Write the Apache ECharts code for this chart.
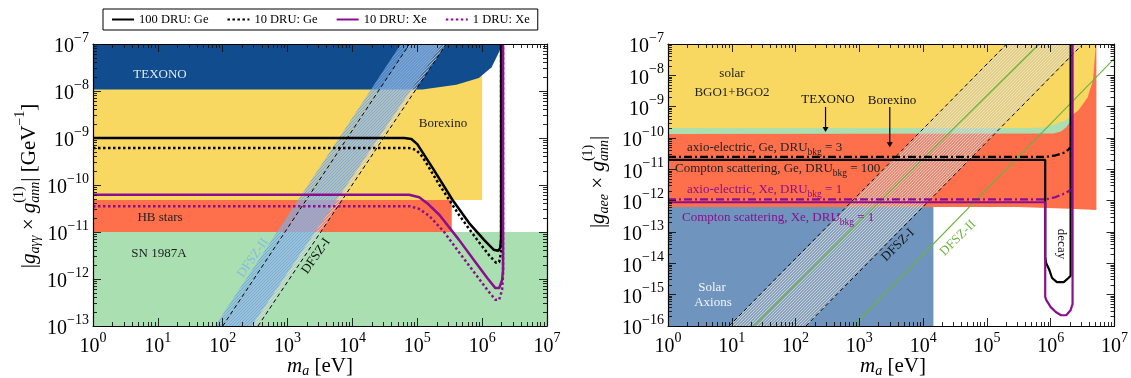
<!DOCTYPE html>
<html>
<head>
<meta charset="utf-8">
<script src="https://cdn.jsdelivr.net/npm/echarts@6/dist/echarts.min.js"></script>
<style>
html,body{margin:0;padding:0;background:#fff;}
#chart{width:1131px;height:378px;}
</style>
</head>
<body>
<div id="chart"></div>
<script>
// ---------- data: left panel, |g_aγγ × g_ann^(1)| [GeV^-1] vs m_a [eV] ----------
const texonoPhoton   = [[1,1e-7],[1,1.08e-8],[1.2e5,1.08e-8],[4e5,1.35e-8],[8.9e5,1.9e-8],[1.4e6,3.2e-8],[1.8e6,6.5e-8],[2.04e6,1e-7]];
const borexinoPhoton = [[1,4.8e-11],[1e6,4.8e-11],[1e6,1e-7],[1,1e-7]];
const hbStars        = [[1,1e-11],[3.4e5,1e-11],[3.4e5,4.8e-11],[1,4.8e-11]];
const sn1987a        = [[1,1e-13],[1e7,1e-13],[1e7,1e-11],[1,1e-11]];
const dfsz2Photon    = [[76,1e-13],[280,1e-13],[2.4e5,1e-7],[5.6e4,1e-7]];
const dfsz1Photon    = [[100,1e-13],[350,1e-13],[2.8e5,1e-7],[7.6e4,1e-7]];

const ge100 = [[1,1e-9],[6.3e4,1e-9],[8.1e4,9.5e-10],[1.0e5,7.4e-10],[1.8e5,2.1e-10],[3.5e5,4.8e-11],[6.3e5,1.55e-11],[1.07e6,6.8e-12],[1.5e6,4.2e-12],[1.77e6,4e-12],[1.9e6,4.6e-12],[1.96e6,7.4e-12],[1.96e6,1e-7]];
const ge10  = [[1,6.1e-10],[7.5e4,6.1e-10],[9.6e4,5.6e-10],[1.2e5,4e-10],[2.2e5,1e-10],[4.4e5,2.3e-11],[8.4e5,6.8e-12],[1.28e6,3.2e-12],[1.65e6,2.2e-12],[1.83e6,2.3e-12],[1.96e6,3.7e-12],[1.96e6,1e-7]];
const xe10  = [[1,6.2e-11],[7.5e4,6.2e-11],[1.07e5,5.5e-11],[1.42e5,4.1e-11],[2.2e5,2.3e-11],[4.4e5,6.8e-12],[7.5e5,2.5e-12],[1.2e6,1.05e-12],[1.6e6,6.4e-13],[1.83e6,6.4e-13],[2.03e6,9.5e-13],[2.1e6,1.55e-12],[2.1e6,1e-7]];
const xe1   = [[1,3.55e-11],[7.5e4,3.55e-11],[1.07e5,3.1e-11],[1.53e5,2.2e-11],[2.6e5,1e-11],[4.4e5,3.7e-12],[7.5e5,1.4e-12],[1.2e6,5.9e-13],[1.6e6,3.6e-13],[1.83e6,3.6e-13],[2.03e6,5.9e-13],[2.1e6,1.2e-12],[2.1e6,1e-7]];

// ---------- data: right panel, |g_aee × g_ann^(1)| vs m_a [eV] ----------
const borexinoElec = [[1,1e-7],[5.2e6,1e-7],[5.2e6,5e-13],[2e6,5.5e-13],[3e5,6.3e-13],[1,6.3e-13]];
const texonoElec   = [[1,1e-7],[2.1e6,1e-7],[2.1e6,3.7e-10],[1.75e6,2.2e-10],[1.45e6,1.6e-10],[1.1e6,1.4e-10],[1,1.35e-10]];
const solarBGO     = [[1,1e-7],[5.1e6,1e-7],[4.6e6,7e-9],[3.8e6,2e-9],[2.75e6,7.8e-10],[1.74e6,3.7e-10],[8.5e5,2.2e-10],[5e5,2.1e-10],[1,2.1e-10]];
const solarAxions  = [[1,6.3e-13],[1.45e4,6.3e-13],[1.45e4,1e-16],[1,1e-16]];
const dfsz1Elec    = [[9.1,1e-16],[145,1e-16],[3.2e6,1e-7],[2.04e5,1e-7]];
const dfsz2ElecA   = [[22,1e-16],[6.6e5,1e-7]];
const dfsz2ElecB   = [[800,1e-16],[1e7,3.5e-8]];

const geAxioElectric = [[1,2.5e-11],[8.5e5,2.5e-11],[1.2e6,2.8e-11],[1.7e6,3.5e-11],[2.05e6,5.1e-11]];
const geCompton      = [[1,2e-11],[8.2e5,2e-11],[8.2e5,1.6e-14],[8.5e5,1.0e-14],[9.5e5,6.2e-15],[1.05e6,3.4e-15],[1.25e6,2.5e-15],[1.6e6,2.5e-15],[1.9e6,3.4e-15],[2.05e6,4e-15],[2.05e6,1e-7]];
const xeAxioElectric = [[1,1.1e-12],[8.5e5,1.1e-12],[1.2e6,1.3e-12],[1.7e6,1.75e-12],[2.05e6,2.2e-12]];
const xeCompton      = [[1,8.9e-13],[8.2e5,8.9e-13],[8.2e5,8.5e-16],[8.5e5,6.8e-16],[1.0e6,4e-16],[1.2e6,2.8e-16],[1.45e6,2.2e-16],[1.75e6,2.2e-16],[2.05e6,3.2e-16],[2.2e6,5e-16],[2.2e6,1e-7]];

const texonoArrow   = [[295,9.8e-10],[295,1.55e-10]];
const borexinoArrow = [[3.0e3,9.8e-10],[3.0e3,5.1e-11]];

// axis ranges (decade exponents)
const xDecades  = [0, 7];
const yLeftDec  = [-13, -7];
const yRightDec = [-16, -7];
const legendNames = ['100 DRU: Ge', '10 DRU: Ge', '10 DRU: Xe', '1 DRU: Xe'];

// ---------- styling helpers ----------
const SERIF = '"Liberation Serif","DejaVu Serif",serif';
const PURPLE = '#8a0f8e';
const C = {
  texono: '#104c8e', yellow: '#f9d862', orange: '#fe6f4c', green: '#a9dfb1',
  steel: '#6f95be', dfszGreen: '#6cb33f'
};

function hatch(bg, stroke, step, lw) {
  const c = document.createElement('canvas');
  c.width = c.height = step;
  const g = c.getContext('2d');
  g.fillStyle = bg; g.fillRect(0, 0, step, step);
  g.strokeStyle = stroke; g.lineWidth = lw;
  g.beginPath();
  g.moveTo(0, step); g.lineTo(step, 0);
  g.moveTo(-step / 2, step / 2); g.lineTo(step / 2, -step / 2);
  g.moveTo(step / 2, step * 1.5); g.lineTo(step * 1.5, step / 2);
  g.stroke();
  return { type: 'pattern', image: c, repeat: 'repeat' };
}

const pow = k => Math.pow(10, k);
function decades(a, b) { const r = []; for (let k = a; k <= b; k++) r.push(pow(k)); return r; }
function minors(a, b) { const r = []; for (let k = a; k < b; k++) for (let j = 2; j <= 9; j++) r.push(j * pow(k)); return r; }
function expLabel(v) {
  const e = Math.round(Math.log10(v));
  return '{b|10}{s|' + String(e).replace('-', '−') + '}';
}
const tickRich = {
  b: { fontFamily: SERIF, fontSize: 20, color: '#000', verticalAlign: 'bottom', lineHeight: 26 },
  s: { fontFamily: SERIF, fontSize: 14, color: '#000', verticalAlign: 'top', lineHeight: 14 }
};

function axesFor(dim, gi, dec) {
  const pos = dim === 'x' ? ['bottom', 'top'] : ['left', 'right'];
  const out = [];
  pos.forEach((p, pi) => {
    [false, true].forEach(minor => {
      out.push({
        type: 'log', logBase: 10, gridIndex: gi, position: p, offset: 0,
        min: pow(dec[0]), max: pow(dec[1]), z: 10,
        axisLine: { show: !minor, onZero: false, lineStyle: { color: '#000', width: 1.2 } },
        splitLine: { show: false }, minorTick: { show: false }, minorSplitLine: { show: false },
        axisTick: { show: true, inside: true, length: minor ? 4 : 8,
          lineStyle: { color: '#111', width: 0.9 },
          customValues: minor ? minors(dec[0], dec[1]) : decades(dec[0], dec[1]) },
        axisLabel: { show: !minor && pi === 0, customValues: decades(dec[0], dec[1]),
          formatter: expLabel, rich: tickRich, margin: dim === 'x' ? 5 : 4 },
        axisPointer: { show: false }
      });
    });
  });
  return out;
}

function region(pts, gi, fill, z) {
  return {
    type: 'custom', xAxisIndex: gi * 4, yAxisIndex: gi * 4, z: z || 1, silent: true, clip: true,
    data: pts,
    renderItem(params, api) {
      if (params.dataIndex !== 0) return null;
      return { type: 'polygon', shape: { points: pts.map(p => api.coord(p)) }, style: { fill: fill } };
    }
  };
}

function curve(name, pts, gi, color, width, type, z) {
  return {
    type: 'line', name: name, xAxisIndex: gi * 4, yAxisIndex: gi * 4, data: pts,
    symbol: 'none', showSymbol: false, silent: true, clip: true, z: z || 5,
    lineStyle: { color: color, width: width, type: type || 'solid', cap: 'butt' },
    itemStyle: { color: color }
  };
}

function arrow(pts, gi) {
  return {
    type: 'custom', xAxisIndex: gi * 4, yAxisIndex: gi * 4, z: 6, silent: true,
    data: pts,
    renderItem(params, api) {
      if (params.dataIndex !== 0) return null;
      const a = api.coord(pts[0]), b = api.coord(pts[1]);
      return { type: 'group', children: [
        { type: 'line', shape: { x1: a[0], y1: a[1], x2: b[0], y2: b[1] - 3 }, style: { stroke: '#000', lineWidth: 1.2 } },
        { type: 'polygon', shape: { points: [[b[0] - 3, b[1] - 5], [b[0] + 3, b[1] - 5], [b[0], b[1]]] }, style: { fill: '#000' } }
      ] };
    }
  };
}

// typeset a short formula as a row of text pieces (sub/superscripts via offsets)
const measureCtx = document.createElement('canvas').getContext('2d');
function mathText(pieces, x, y, opt) {
  opt = opt || {};
  const color = opt.color || '#000';
  let cx = 0, held = 0;
  const kids = [];
  pieces.forEach(p => {
    const font = (p.i ? 'italic ' : '') + p.s + 'px ' + SERIF;
    measureCtx.font = font;
    const w = measureCtx.measureText(p.t).width;
    kids.push({ type: 'text', x: cx, y: p.dy || 0, z: 100, zlevel: 0,
      style: { text: p.t, font: font, fill: p.c || color, align: 'left', verticalAlign: 'middle' } });
    if (p.hold) { held = Math.max(held, w); }
    else { cx += Math.max(w, held); held = 0; }
  });
  const shift = opt.anchor === 'left' ? 0 : -cx / 2;
  kids.forEach(k => { k.x += shift; });
  return { type: 'group', x: x, y: y, rotation: opt.rot || 0, z: 100, silent: true, children: kids };
}
const T = (t, s, extra) => Object.assign({ t: t, s: s }, extra || {});
const deg = d => d * Math.PI / 180;

function label(text, x, y, size, color, rot) {
  return mathText([T(text, size)], x, y, { color: color, rot: rot });
}
function druLabel(head, tail, x, y, color) {
  return mathText([T(head, 13), T('bkg', 9.5, { dy: 4 }), T(tail, 13)], x, y, { color: color, anchor: 'left' });
}

const dfszLeftBlue = hatch('rgba(135,180,230,0.55)', 'rgba(110,162,226,0.95)', 3, 0.8);
const dfszLeftGrey = hatch('rgba(190,196,204,0.35)', 'rgba(232,234,238,0.7)', 3, 0.8);
const dfszRightGrey = hatch('rgba(190,190,190,0.35)', 'rgba(240,240,240,0.65)', 3, 0.9);

const option = {
  animation: false,
  backgroundColor: '#fff',
  grid: [
    { left: 93, top: 44, width: 454, height: 282, containLabel: false },
    { left: 668, top: 44, width: 451, height: 282, containLabel: false }
  ],
  xAxis: [].concat(axesFor('x', 0, xDecades), axesFor('x', 1, xDecades)),
  yAxis: [].concat(axesFor('y', 0, yLeftDec), axesFor('y', 1, yRightDec)),
  legend: {
    data: legendNames, left: 103, top: 9, itemWidth: 22, itemHeight: 10, itemGap: 18,
    padding: [4, 8, 4, 8], borderColor: '#000', borderWidth: 1, borderRadius: 0,
    itemStyle: { color: 'transparent', borderColor: 'transparent', borderWidth: 0 },
    textStyle: { fontFamily: SERIF, fontSize: 12.5, color: '#000' }
  },
  series: [
    // left panel regions
    region(borexinoPhoton, 0, C.yellow, 1),
    region(texonoPhoton, 0, C.texono, 1),
    region(hbStars, 0, C.orange, 1),
    region(sn1987a, 0, C.green, 1),
    region(dfsz1Photon, 0, dfszLeftGrey, 2),
    region(dfsz2Photon, 0, dfszLeftBlue, 2),
    curve('dfsz1 lo', [dfsz1Photon[0], dfsz1Photon[3]], 0, '#000', 1, [4, 3], 3),
    curve('dfsz1 hi', [dfsz1Photon[1], dfsz1Photon[2]], 0, '#000', 1, [4, 3], 3),
    curve('100 DRU: Ge', ge100, 0, '#000', 2.5),
    curve('10 DRU: Ge', ge10, 0, '#000', 2.5, [2.5, 2.5]),
    curve('10 DRU: Xe', xe10, 0, PURPLE, 2.5),
    curve('1 DRU: Xe', xe1, 0, PURPLE, 2.5, [2.5, 2.5]),

    // right panel regions
    region(borexinoElec, 1, C.orange, 1),
    region(texonoElec, 1, C.green, 1),
    region(solarBGO, 1, C.yellow, 1),
    region(solarAxions, 1, C.steel, 1),
    region(dfsz1Elec, 1, dfszRightGrey, 2),
    curve('dfsz1e lo', [dfsz1Elec[0], dfsz1Elec[3]], 1, '#000', 1, [4, 3], 3),
    curve('dfsz1e hi', [dfsz1Elec[1], dfsz1Elec[2]], 1, '#000', 1, [4, 3], 3),
    curve('dfsz2e a', dfsz2ElecA, 1, C.dfszGreen, 1.1, 'solid', 3),
    curve('dfsz2e b', dfsz2ElecB, 1, C.dfszGreen, 1.1, 'solid', 3),
    curve('Ge axio-electric', geAxioElectric, 1, '#000', 2.2, [8, 3, 2, 3]),
    curve('Ge Compton', geCompton, 1, '#000', 2.2),
    curve('Xe axio-electric', xeAxioElectric, 1, PURPLE, 2.2, [8, 3, 2, 3]),
    curve('Xe Compton', xeCompton, 1, PURPLE, 2.2),
    arrow(texonoArrow, 1),
    arrow(borexinoArrow, 1)
  ],
  graphic: {
    elements: [
      // axis titles
      mathText([T('|', 21), T('g', 21, { i: 1 }), T('aγγ', 14, { i: 1, dy: 6 }), T(' × ', 21), T('g', 21, { i: 1 }),
        T('(1)', 14, { dy: -10, hold: 1 }), T('ann', 14, { i: 1, dy: 6 }), T('| [GeV', 21), T('−1', 14, { dy: -9 }), T(']', 21)],
        29, 186, { rot: deg(90) }),
      mathText([T('|', 21), T('g', 21, { i: 1 }), T('aee', 14, { i: 1, dy: 6 }), T(' × ', 21), T('g', 21, { i: 1 }),
        T('(1)', 14, { dy: -10, hold: 1 }), T('ann', 14, { i: 1, dy: 6 }), T('|', 21)],
        598, 182, { rot: deg(90) }),
      mathText([T('m', 21, { i: 1 }), T('a', 14, { i: 1, dy: 5 }), T(' [eV]', 21)], 320, 366),
      mathText([T('m', 21, { i: 1 }), T('a', 14, { i: 1, dy: 5 }), T(' [eV]', 21)], 893, 366),

      // left panel annotations
      label('TEXONO', 160, 75, 13, '#e3ebf3'),
      label('Borexino', 443, 124, 13, '#222'),
      label('HB stars', 160, 218, 13, '#222'),
      label('SN 1987A', 159, 254, 13, '#222'),
      label('DFSZ-II', 253, 258, 13, '#8ab7e4', deg(55)),
      label('DFSZ-I', 316, 256, 13, '#111', deg(55)),

      // right panel annotations
      label('solar', 732, 74, 13, '#222'),
      label('BGO1+BGO2', 732, 93, 13, '#222'),
      label('TEXONO', 828, 100, 13, '#111'),
      label('Borexino', 892, 101, 13, '#111'),
      druLabel('axio-electric, Ge, DRU', ' = 3', 687, 148, '#222'),
      druLabel('Compton scattering, Ge, DRU', ' = 100', 675, 169, '#222'),
      druLabel('axio-electric, Xe, DRU', ' = 1', 687, 190, PURPLE),
      druLabel('Compton scattering, Xe, DRU', ' = 1', 682, 218, PURPLE),
      label('Solar', 712, 288, 13, '#f2f5f9'),
      label('Axions', 713, 303, 13, '#f2f5f9'),
      label('DFSZ-I', 898, 245, 13, '#111', deg(45)),
      label('DFSZ-II', 958, 238, 13, C.dfszGreen, deg(45)),
      label('decay', 1061, 244, 13, '#111', deg(-90))
    ]
  }
};

const chart = echarts.init(document.getElementById('chart'), null, { renderer: 'canvas' });
chart.setOption(option);
</script>
</body>
</html>
